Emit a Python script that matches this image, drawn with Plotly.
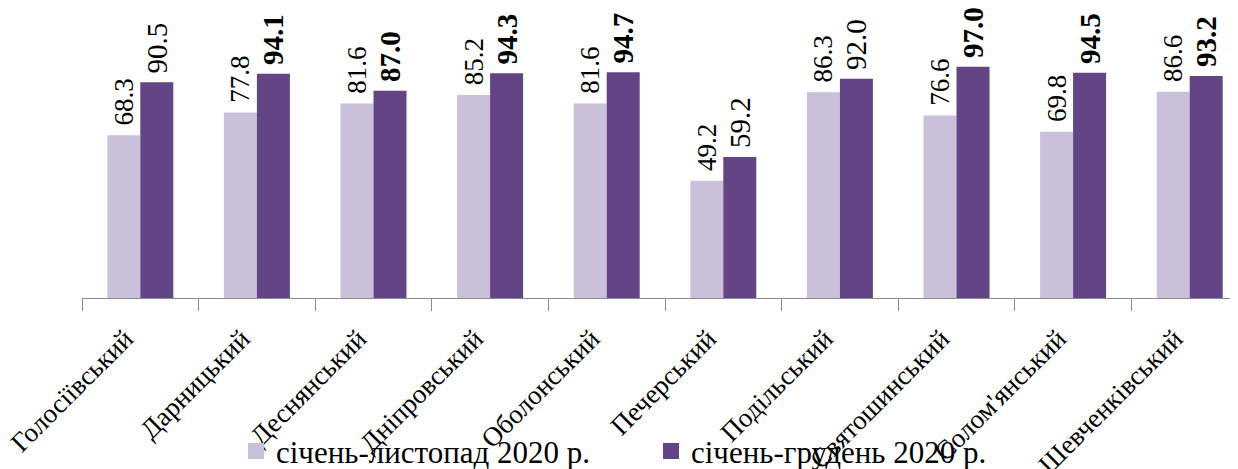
import plotly.graph_objects as go

districts = ["Голосіївський", "Дарницький", "Деснянський", "Дніпровський", "Оболонський",
             "Печерський", "Подільський", "Святошинський", "Солом'янський", "Шевченківський"]
jan_nov = [68.3, 77.8, 81.6, 85.2, 81.6, 49.2, 86.3, 76.6, 69.8, 86.6]
jan_dec = [90.5, 94.1, 87.0, 94.3, 94.7, 59.2, 92.0, 97.0, 94.5, 93.2]
jan_dec_bold = [False, True, True, True, True, False, False, True, True, True]
series_names = ["січень-листопад 2020 р.", "січень-грудень 2020 р."]

LIGHT = "#CAC0DA"
DARK = "#634485"
FONT = "Liberation Serif"

OFF = 8  # page body margin
W, H = 1238 - OFF, 469 - OFF
left = 82 - OFF
cat_w = 116.6
base_y = 298.5 - OFF
px_per_unit = 2.387

def lab(v, bold=False, pad="\u00a0"):
    s = pad + f"{v:.1f}"
    return f"<b>{s}</b>" if bold else s

fig = go.Figure()
fig.add_trace(go.Bar(
    x=districts, y=jan_nov, name=series_names[0], marker=dict(color=LIGHT, line=dict(width=0)),
    text=[lab(v) for v in jan_nov], textposition="outside", textangle=-90,
    textfont=dict(family=FONT, size=27, color="black"), cliponaxis=False,
    constraintext="none", showlegend=False, hoverinfo="skip"))
fig.add_trace(go.Bar(
    x=districts, y=jan_dec, name=series_names[1], marker=dict(color=DARK, line=dict(width=0)),
    text=[lab(v, b, pad="\u2009") for v, b in zip(jan_dec, jan_dec_bold)], textposition="outside",
    textangle=-90, textfont=dict(family=FONT, size=29, color="black"), cliponaxis=False,
    constraintext="none", showlegend=False, hoverinfo="skip"))

# legend entries
for nm, col in zip(series_names, [LIGHT, DARK]):
    fig.add_trace(go.Scatter(x=[None], y=[None], mode="markers", name=nm,
                             marker=dict(symbol="square", size=18, color=col)))

plot_w = W - left
x_max = -0.5 + plot_w / cat_w
y_max = base_y / px_per_unit

fig.update_layout(
    width=W, height=H,
    margin=dict(l=left, r=0, t=0, b=H - base_y, pad=0, autoexpand=False),
    paper_bgcolor="white", plot_bgcolor="white",
    barmode="group", bargap=0.434, bargroupgap=0,
    font=dict(family=FONT, color="black"),
    uniformtext=dict(mode=False),
    xaxis=dict(range=[-0.5, x_max], showgrid=False, showline=True, linecolor="#8C8C8C", linewidth=1,
               ticks="outside", tickson="boundaries", ticklen=12, tickcolor="#8C8C8C",
               tickangle=-45, tickfont=dict(family=FONT, size=27, color="black"),
               ticklabelshift=-15, ticklabelstandoff=13,
               zeroline=False, fixedrange=True, automargin=False),
    yaxis=dict(range=[0, y_max], visible=False, showgrid=False, zeroline=False, fixedrange=True,
               automargin=False),
    legend=dict(orientation="h", x=(236 - 82) / plot_w, xanchor="left",
                y=(base_y - (452 - OFF)) / base_y, yanchor="middle",
                font=dict(family=FONT, size=31, color="black"),
                bgcolor="rgba(0,0,0,0)", entrywidth=370, itemwidth=30, tracegroupgap=0),
    showlegend=True,
)

fig.write_html("out.html")
